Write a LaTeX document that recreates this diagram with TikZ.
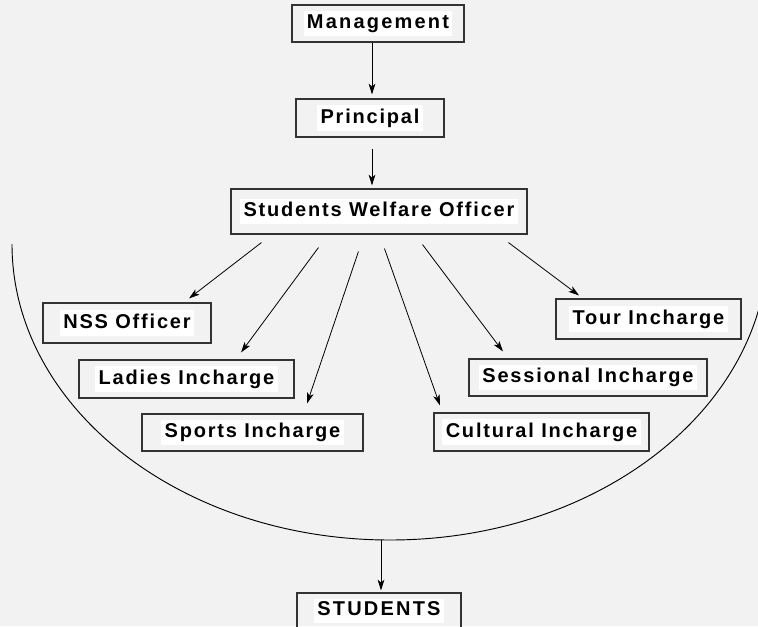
\documentclass[tikz,border=0pt]{standalone}
\usepackage{fontspec}
\usetikzlibrary{arrows.meta,calc}
\newfontfamily\boxfont[LetterSpace=9]{Liberation Sans}
\newfontfamily\wideboxfont[LetterSpace=11]{Liberation Sans}
\definecolor{paper}{HTML}{F2F2F2}
\definecolor{boxline}{HTML}{333333}
\newcommand{\lbl}[1]{{\setlength{\fboxsep}{2.5pt}\colorbox{white}{\rule[-3pt]{0pt}{12.5pt}#1}}}

\begin{document}
\begin{tikzpicture}[x=0.75pt,y=0.75pt,
    box/.style={draw=boxline, line width=0.8pt, inner sep=0pt,
      font=\boxfont\bfseries\fontsize{15}{15}\selectfont},
    widebox/.style={box, font=\wideboxfont\bfseries\fontsize{15}{15}\selectfont},
    arr/.style={-{Stealth[length=8pt,width=5pt,inset=2pt]}, line width=0.6pt}]
    \def\W{758}
    \def\H{626}
    \fill[paper] (0,0) rectangle (\W,-\H);
    \useasboundingbox (0,0) rectangle (\W,-\H);
    \clip (0,0) rectangle (\W,-\H);

    % top chain
    \node[widebox, minimum width=129pt, minimum height=27.75pt] (mgmt) at (378,-23.5) {\lbl{Management}};
    \node[box, minimum width=111pt, minimum height=28.5pt] (prin) at (370,-118) {\lbl{Principal}};
    \node[box, minimum width=222pt, minimum height=33.75pt] (swo) at (379,-211.5) {\lbl{Students Welfare Officer}};

    % incharges
    \node[box, minimum width=126pt, minimum height=30pt] (nss) at (127,-323) {\lbl{NSS Officer}};
    \node[box, minimum width=161.25pt, minimum height=28.5pt] (ladies) at (186.5,-379) {\lbl{Ladies Incharge}};
    \node[box, minimum width=165.75pt, minimum height=27.75pt] (sports) at (252.5,-432.5) {\lbl{Sports Incharge}};
    \node[box, minimum width=161.25pt, minimum height=28.5pt] (cultural) at (541.5,-432) {\lbl{Cultural Incharge}};
    \node[box, minimum width=178.5pt, minimum height=27.75pt] (sessional) at (588,-377.5) {\lbl{Sessional Incharge}};
    \node[box, minimum width=138.75pt, minimum height=30pt] (tour) at (648.5,-319) {\lbl{Tour Incharge}};

    \node[widebox, minimum width=123pt, minimum height=27pt] (stud) at (379,-611) {\lbl{STUDENTS}};

    % the bowl round the incharges
    \draw[line width=0.7pt] (12,-244) arc[start angle=180, end angle=360, x radius=378, y radius=296];
    \coordinate (arcbot) at (381,-540);

    \draw[arr] ([xshift=-4.5pt]mgmt.south) -- ([xshift=-4.5pt,yshift=3pt]mgmt.south |- prin.north);
    \draw[arr] ($(prin.south)+(2,-11)$) -- ($(prin.south |- swo.north)+(2,3)$);

    \draw[arr] ($(swo.south west)+(31,-8)$) -- ($(nss.north)+(62,4)$);
    \draw[arr] ($(swo.south west)+(88,-13)$) -- ($(ladies.north)+(54.5,7)$);
    \draw[arr] ($(swo.south west)+(128,-17)$) -- ($(sports.north)+(54.5,10)$);
    \draw[arr] ($(swo.south west)+(154,-14)$) -- ($(cultural.north)+(-101.5,7)$);
    \draw[arr] ($(swo.south west)+(192,-10)$) -- ($(sessional.north)+(-85,7)$);
    \draw[arr] ($(swo.south west)+(278,-8)$) -- ($(tour.north)+(-69.5,3)$);

    \draw[arr] (arcbot) -- ($(stud.north)+(2,2)$);
\end{tikzpicture}
\end{document}
